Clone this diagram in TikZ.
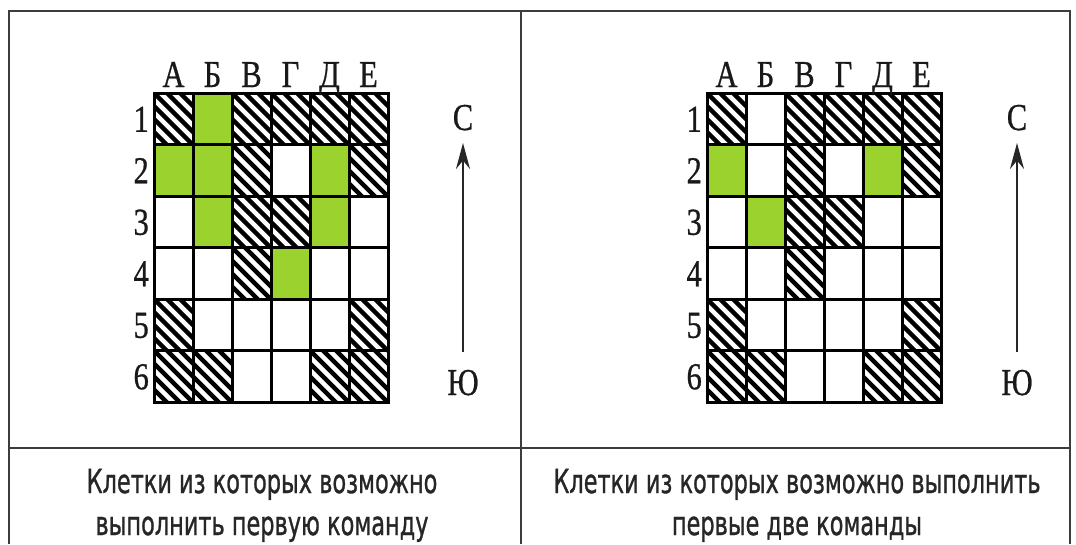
\documentclass[tikz,border=0pt]{standalone}
\usepackage{fontspec}
\setmainfont{Liberation Serif}
\newfontfamily\labfont[FakeBold=0.8]{Liberation Serif}
\newfontfamily\capfont[FakeBold=1.2]{DejaVu Sans}
\usetikzlibrary{arrows.meta}
\definecolor{cellgreen}{RGB}{155,210,45}
\definecolor{framegray}{RGB}{60,60,60}
\newcommand{\mysq}[1]{\scalebox{0.8}[1]{#1}}
\newcommand{\mycap}[1]{\scalebox{0.68}[1]{#1}}
\begin{document}
\begin{tikzpicture}[x=1pt,y=-1pt,
  gridline/.style={line width=3pt, line cap=rect},
  frameline/.style={line width=1.3pt, draw=framegray},
  hatchline/.style={line width=4.3pt},
  lab/.style={font=\labfont\fontsize{38}{38}\selectfont, inner sep=0pt, text=black!90},
  caption/.style={font=\capfont\fontsize{33}{33}\selectfont, inner sep=0pt, text=black!85},
  dirarrow/.style={line width=2pt, draw=black!85, -{Stealth[length=26pt,width=14pt]}}]
\useasboundingbox (0,0) rectangle (1076,544);
\fill[white] (0,0) rectangle (1076,544);
% frame
\draw[frameline] (9,544) -- (9,11) -- (1070,11) -- (1070,544);
\draw[frameline] (521,11) -- (521,544);
\draw[frameline, line width=2pt] (9,448) -- (1070,448);
% grids
\foreach \ox/\gl in {154/{2/1,1/2,2/2,5/2,2/3,5/3,4/4}, 707/{1/2,5/2,2/3}} {
  % green cells
  \foreach \c/\r in \gl {
    \pgfmathsetmacro{\xa}{\ox+(\c-1)*39}
    \pgfmathsetmacro{\ya}{93+(\r-1)*51.5}
    \fill[cellgreen] (\xa,\ya) rectangle ++(39,51.5);
  }
  % hatched cells
  \foreach \c/\r in {1/1,3/1,4/1,5/1,6/1,3/2,6/2,3/3,4/3,3/4,1/5,6/5,1/6,2/6,5/6,6/6} {
    \pgfmathsetmacro{\xa}{\ox+(\c-1)*39}
    \pgfmathsetmacro{\ya}{93+(\r-1)*51.5}
    \begin{scope}
      \clip (\xa,\ya) rectangle ++(39,51.5);
      \foreach \k in {-5,...,3} {
        \draw[hatchline] (\xa+\k*13,\ya) -- ++(62,62);
      }
    \end{scope}
  }
  % grid lines
  \foreach \i in {0,...,6} {
    \draw[gridline] (\ox+\i*39,93) -- (\ox+\i*39,402);
  }
  \foreach \j in {0,...,6} {
    \draw[gridline] (\ox,93+\j*51.5) -- (\ox+234,93+\j*51.5);
  }
}
% column labels
\foreach \p/\ox in {L/154,R/707} {
  \foreach \t [count=\i] in {А,Б,В,Г,Д,Е} {
    \node[lab, anchor=base] (col\p\i) at (\ox+\i*39-19.5,87) {\mysq{\t}};
  }
  \foreach \j in {1,...,6} {
    \node[lab, anchor=base east] (row\p\j) at (\ox-5,93+\j*51.5-25.75+13) {\mysq{\j}};
  }
}
% compass arrows
\foreach \p/\ax in {L/463,R/1017} {
  \node[lab, anchor=base] (north\p) at (\ax,130) {\mysq{С}};
  \node[lab, anchor=base] (south\p) at (\ax,395) {\mysq{Ю}};
  \coordinate (s\p) at (\ax,352);
  \coordinate (n\p) at (\ax,143);
  \draw[dirarrow] (s\p) -- (n\p);
}
% captions
\node[caption, anchor=base] (capL1) at (262,493) {\mycap{Клетки из которых возможно}};
\node[caption, anchor=base] (capL2) at (262,535) {\mycap{выполнить первую команду}};
\node[caption, anchor=base] (capR1) at (797,493) {\mycap{Клетки из которых возможно выполнить}};
\node[caption, anchor=base] (capR2) at (797,535) {\mycap{первые две команды}};
\end{tikzpicture}
\end{document}
